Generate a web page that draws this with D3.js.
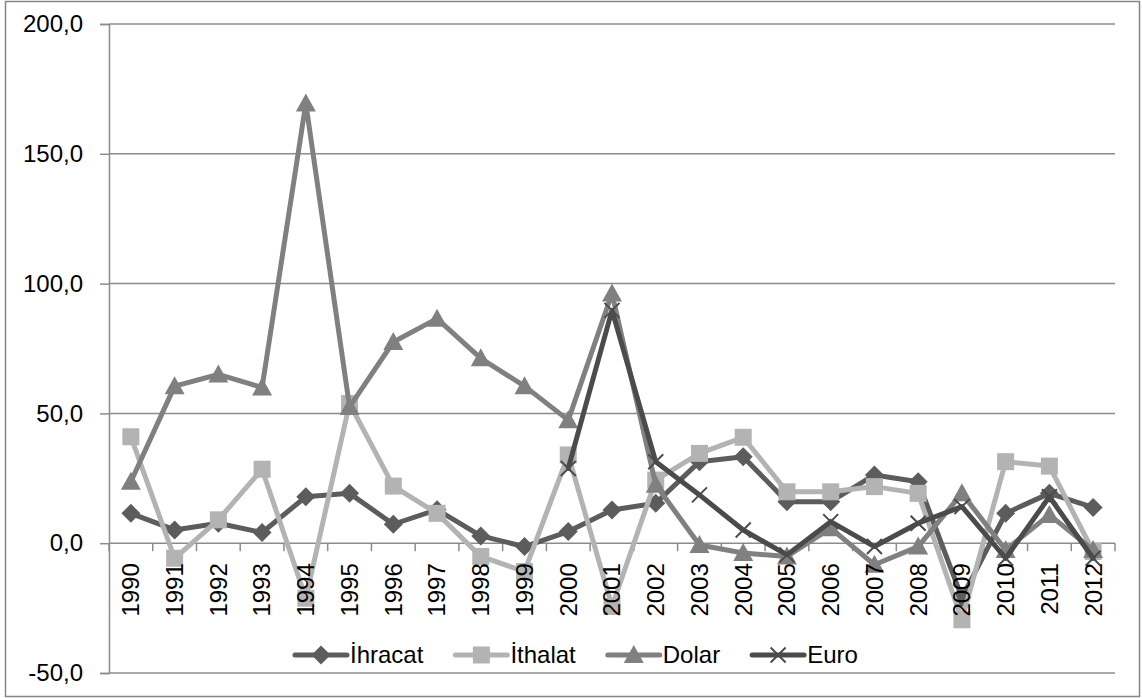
<!DOCTYPE html>
<html>
<head>
<meta charset="utf-8">
<script src="https://cdn.jsdelivr.net/npm/d3@7"></script>
<style>
  html, body { margin: 0; padding: 0; background: #fff; }
  svg { display: block; }
  text { font-family: "Liberation Sans", Arial, sans-serif; fill: #000; }
</style>
</head>
<body>
<svg id="chart" width="1142" height="698"></svg>
<script>
const years = ["1990","1991","1992","1993","1994","1995","1996","1997","1998","1999","2000","2001","2002","2003","2004","2005","2006","2007","2008","2009","2010","2011","2012"];
const ihracat = [11.5, 5.1, 7.7, 4.1, 17.9, 19.2, 7.3, 12.9, 2.8, -1.3, 4.5, 12.8, 15.4, 31.4, 33.3, 16.0, 16.0, 26.3, 23.7, -21.0, 11.5, 19.2, 13.8];
const ithalat = [41.0, -5.8, 9.0, 28.5, -21.2, 53.8, 22.0, 11.5, -5.1, -10.9, 34.0, -24.4, 24.3, 34.6, 40.8, 19.8, 19.8, 21.8, 19.2, -29.5, 31.4, 29.7, -3.2];
const dolar = [23.7, 60.5, 65.0, 60.0, 169.4, 52.5, 77.5, 86.5, 71.2, 60.5, 47.4, 96.2, 22.5, -0.7, -3.8, -5.1, 5.8, -8.3, -1.3, 19.2, -2.6, 10.9, -2.6];
const euro = [null, null, null, null, null, null, null, null, null, null, 28.8, 89.7, 31.4, 18.6, 5.1, -4.5, 8.3, -1.3, 7.7, 14.1, -5.8, 17.9, -5.8];
const seriesNames = ["İhracat", "İthalat", "Dolar", "Euro"];
const yTicks = [-50, 0, 50, 100, 150, 200];

const seriesValues = [ihracat, ithalat, dolar, euro];
const seriesColors = ["#5c5c5c", "#b3b3b3", "#808080", "#4b4b4b"];
const seriesMarkers = ["diamond", "square", "triangle", "x"];

const svg = d3.select("#chart");
const plot = { left: 109, right: 1115, top: 24, bottom: 673 };
const FS = "24px";

// outer chart border
svg.append("rect")
  .attr("x", 5.5).attr("y", 1.5)
  .attr("width", 1134).attr("height", 695)
  .attr("fill", "#fff").attr("stroke", "#868686").attr("stroke-width", 1.5);

const x = d3.scaleBand().domain(years).range([plot.left, plot.right]).padding(0);
const y = d3.scaleLinear().domain([-50, 200]).range([plot.bottom, plot.top]);

const fmt = d => d3.format(".1f")(d).replace(".", ",").replace("\u2212", "-");

// gridlines
svg.append("g").selectAll("line")
  .data(yTicks.filter(d => d !== 0))
  .join("line")
  .attr("x1", plot.left).attr("x2", plot.right)
  .attr("y1", d => y(d)).attr("y2", d => y(d))
  .attr("stroke", "#8c8c8c").attr("stroke-width", 1.5);

// y axis
const yAxis = svg.append("g")
  .attr("transform", `translate(${plot.left},0)`)
  .call(d3.axisLeft(y).tickValues(yTicks).tickFormat(fmt).tickSize(9).tickPadding(17));
yAxis.selectAll("path, line").attr("stroke", "#8c8c8c").attr("stroke-width", 1.5);
yAxis.selectAll("text").style("font-size", FS).style("font-family", '"Liberation Sans", Arial, sans-serif').attr("fill", "#000");

// x axis at zero
const x0 = y(0);
const xAxis = svg.append("g").attr("transform", `translate(0,${x0})`);
xAxis.append("line")
  .attr("x1", plot.left).attr("x2", plot.right)
  .attr("y1", 0).attr("y2", 0)
  .attr("stroke", "#8c8c8c").attr("stroke-width", 1.5);
const boundaries = years.map(d => x(d)).concat([x(years[years.length - 1]) + x.bandwidth()]);
xAxis.selectAll("line.tick")
  .data(boundaries)
  .join("line")
  .attr("class", "tick")
  .attr("x1", d => d).attr("x2", d => d)
  .attr("y1", 0).attr("y2", 8)
  .attr("stroke", "#8c8c8c").attr("stroke-width", 1.5);

// markers
function markerPath(type) {
  switch (type) {
    case "diamond": return "M0,-9.5L9.5,0L0,9.5L-9.5,0Z";
    case "square": return "M-8.5,-8.5H8.5V8.5H-8.5Z";
    case "triangle": return "M0,-10L10,8L-10,8Z";
    case "x": return "M-7.5,-7.5L7.5,7.5M-7.5,7.5L7.5,-7.5";
  }
}
function drawMarker(g, type, color, cx, cy) {
  const p = g.append("path")
    .attr("d", markerPath(type))
    .attr("transform", `translate(${cx},${cy})`);
  if (type === "x") {
    p.attr("fill", "none").attr("stroke", color).attr("stroke-width", 2);
  } else {
    p.attr("fill", color).attr("stroke", "none");
  }
}

const cx = d => x(d) + x.bandwidth() / 2;
const line = d3.line()
  .defined(d => d.v !== null)
  .x(d => cx(d.year))
  .y(d => y(d.v));

seriesValues.forEach((vals, i) => {
  const data = years.map((yr, j) => ({ year: yr, v: vals[j] }));
  const g = svg.append("g");
  g.append("path")
    .datum(data)
    .attr("d", line)
    .attr("fill", "none")
    .attr("stroke", seriesColors[i])
    .attr("stroke-width", 5)
    .attr("stroke-linejoin", "round")
    .attr("stroke-linecap", "round");
  data.filter(d => d.v !== null).forEach(d => drawMarker(g, seriesMarkers[i], seriesColors[i], cx(d.year), y(d.v)));
});

// x labels (drawn on top)
const xl = svg.append("g");
years.forEach(yr => {
  xl.append("text")
    .attr("transform", `translate(${cx(yr)},${x0 + 20}) rotate(-90)`)
    .attr("text-anchor", "end")
    .attr("dy", "0.35em")
    .style("font-size", FS)
    .text(yr);
});

// legend
const legend = svg.append("g");
let lx = 295;
const ly = 655;
seriesNames.forEach((name, i) => {
  const g = legend.append("g");
  g.append("line")
    .attr("x1", lx).attr("x2", lx + 52)
    .attr("y1", ly).attr("y2", ly)
    .attr("stroke", seriesColors[i]).attr("stroke-width", 5)
    .attr("stroke-linecap", "round");
  drawMarker(g, seriesMarkers[i], seriesColors[i], lx + 26, ly);
  const t = g.append("text")
    .attr("x", lx + 55).attr("y", ly)
    .attr("dy", "0.35em")
    .style("font-size", FS)
    .text(name);
  lx += 55 + t.node().getComputedTextLength() + 32;
});
</script>
</body>
</html>
